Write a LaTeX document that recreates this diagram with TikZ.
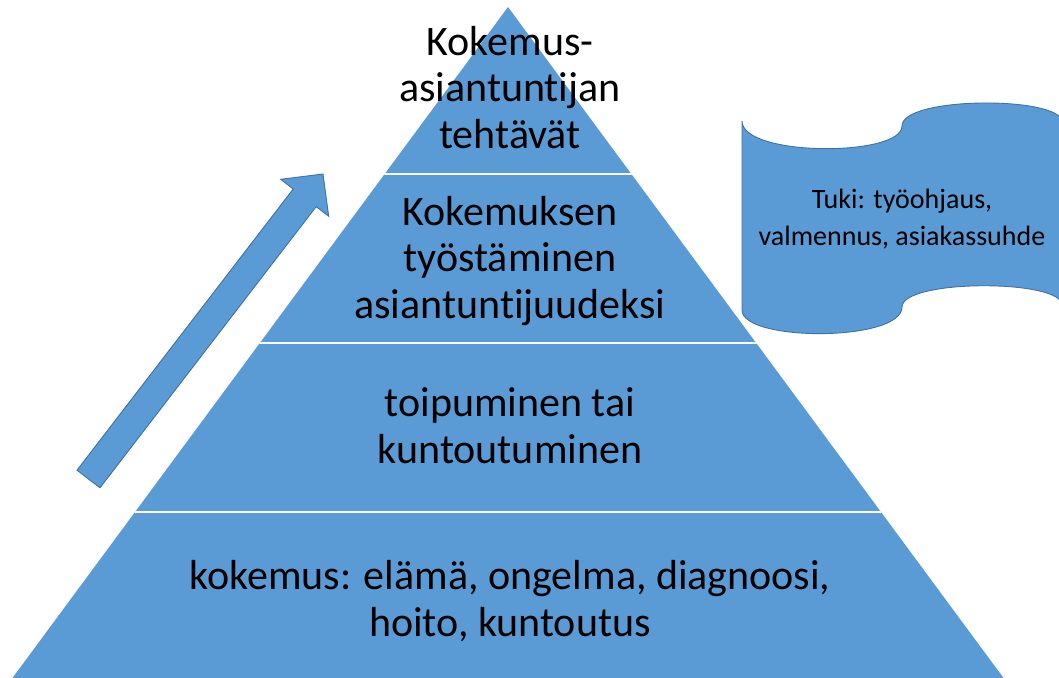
\documentclass[tikz,border=0pt]{standalone}
\usepackage{fontspec}
\setmainfont{Carlito}[Ligatures=NoCommon]
\begin{document}
\begin{tikzpicture}[x=1pt,y=-1pt,
  fillblue/.style={fill=blueA},
  edge/.style={draw=blueB,line width=0.9pt},
  bigtext/.style={align=center,inner sep=0pt,font=\fontsize{42}{46.5}\selectfont,anchor=base},
  smalltext/.style={align=center,inner sep=0pt,font=\fontsize{28}{37}\selectfont,anchor=base}]
\definecolor{blueA}{HTML}{5B9BD5}
\definecolor{blueB}{HTML}{41719C}
\useasboundingbox (0,0) rectangle (1059,677);
\clip (0,0) rectangle (1059,677);
% pyramid
\coordinate (apex) at (508,7);
\coordinate (bl) at (8,684);
\coordinate (br) at (1008,684);
\begin{scope}
\fill[blueA] (apex) -- (br) -- (bl) -- cycle;
\clip (apex) -- (br) -- (bl) -- cycle;
\draw[white,line width=2pt] (0,174) -- (1059,174);
\draw[white,line width=2pt] (0,343) -- (1059,343);
\draw[white,line width=2pt] (0,512) -- (1059,512);
\end{scope}
% arrow
\coordinate (t1) at (77,470.2);
\coordinate (s1) at (293.2,189);
\coordinate (h1) at (280.7,179.3);
\coordinate (tip) at (323,174);
\coordinate (h2) at (328.7,216.3);
\coordinate (s2) at (316.2,206.6);
\coordinate (t2) at (100,487.8);
\path[fillblue,edge,line join=miter] (t1) -- (s1) -- (h1) -- (tip) -- (h2) -- (s2) -- (t2) -- cycle;
% flag
\coordinate (fa) at (742,121);
\coordinate (fb) at (902,126);
\coordinate (fc) at (1062,122);
\coordinate (fd) at (1062,305);
\coordinate (fe) at (902,307);
\coordinate (ff) at (742,310);
\path[fillblue,edge] (fa) .. controls (742,157) and (902,157) .. (fb)
  .. controls (902,96) and (1062,96) .. (fc) -- (fd)
  .. controls (1062,279) and (902,279) .. (fe)
  .. controls (902,342) and (742,342) .. (ff) -- cycle;
% texts
\node[bigtext] (l4) at (510,148) {Kokemus-\\asiantuntijan\\tehtävät};
\node[bigtext] (l3) at (510,318) {Kokemuksen\\työstäminen\\asiantuntijuudeksi};
\node[bigtext] (l2) at (510,463) {toipuminen tai\\kuntoutuminen};
\node[bigtext] (l1) at (510,636) {kokemus: elämä, ongelma, diagnoosi,\\hoito, kuntoutus};
\node[smalltext] (tuki) at (902,245) {Tuki: työohjaus,\\valmennus, asiakassuhde};
\end{tikzpicture}
\end{document}
